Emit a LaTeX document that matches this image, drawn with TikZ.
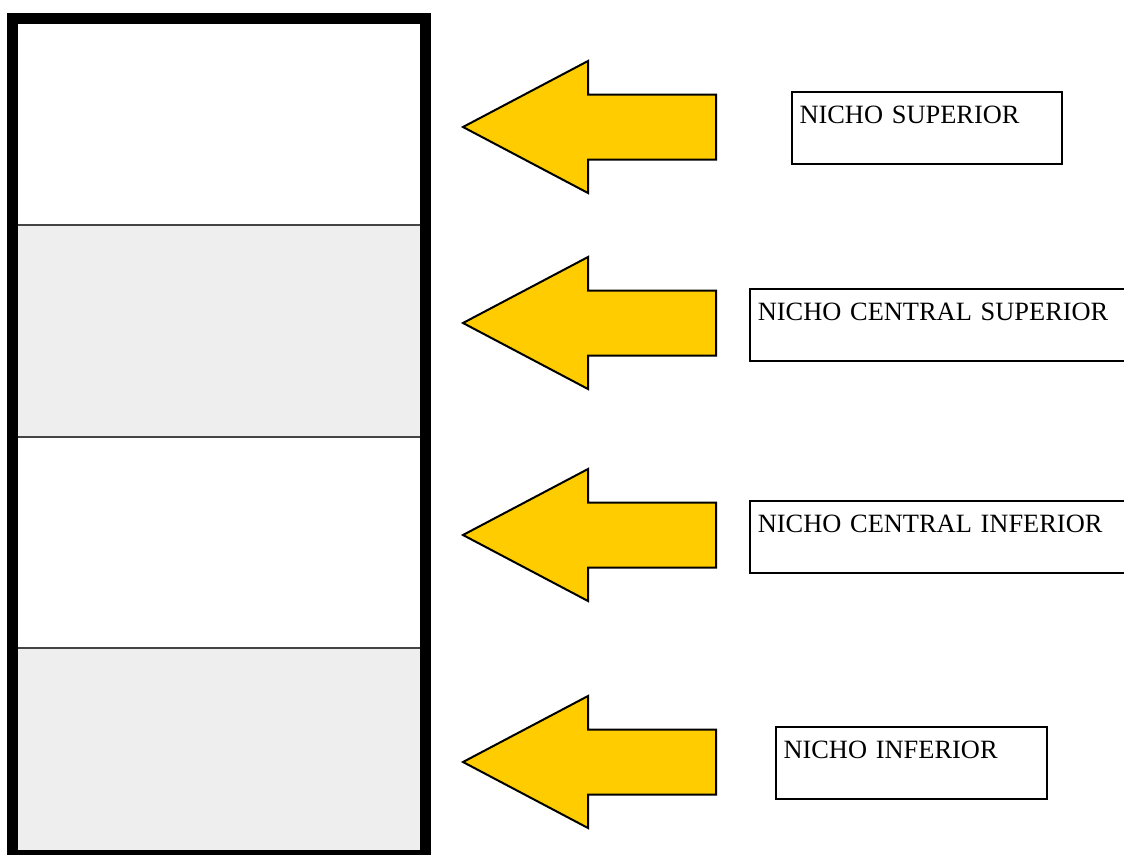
\documentclass[tikz,border=0pt]{standalone}
\usepackage{fontspec}
\setmainfont{Liberation Serif}
\usetikzlibrary{positioning}
\definecolor{flechaamarela}{RGB}{255,204,0}
\definecolor{nichogris}{RGB}{238,238,238}
\definecolor{divisor}{RGB}{68,68,68}
\tikzset{
    marco/.style={line width=11pt, draw=black},
    divisoria/.style={line width=2pt, draw=divisor},
    flecha/.style={draw=black, fill=flechaamarela, line width=2pt, line join=miter},
    nicho/.style={rectangle, draw=black, line width=2pt, anchor=north west, align=left, inner xsep=8pt, inner ysep=0pt, text height=31.5pt, text depth=40.5pt, font=\fontsize{26.4pt}{30pt}\selectfont},
}

\begin{document}
\begin{tikzpicture}[x=1pt, y=-1pt]
            \useasboundingbox (0,0) rectangle (1124,854);
            % estante
            \fill[nichogris] (12,225) rectangle (426,437);
            \fill[nichogris] (12,648) rectangle (426,856);
            \draw[divisoria] (18,225) -- (420,225);
            \draw[divisoria] (18,437) -- (420,437);
            \draw[divisoria] (18,648) -- (420,648);
            \draw[marco] (12.5,18.8) rectangle (425.5,855.5);
            % flechas
            \draw[flecha] (463,127) -- ++(125,-66) -- ++(0,33.5) -- ++(128,0) -- ++(0,65) -- ++(-128,0) -- ++(0,33.5) -- cycle;
            \draw[flecha] (463,323) -- ++(125,-66) -- ++(0,33.5) -- ++(128,0) -- ++(0,65) -- ++(-128,0) -- ++(0,33.5) -- cycle;
            \draw[flecha] (463,535) -- ++(125,-66) -- ++(0,33.5) -- ++(128,0) -- ++(0,65) -- ++(-128,0) -- ++(0,33.5) -- cycle;
            \draw[flecha] (463,762) -- ++(125,-66) -- ++(0,33.5) -- ++(128,0) -- ++(0,65) -- ++(-128,0) -- ++(0,33.5) -- cycle;
            % rotulos
            \node[nicho, text width=254pt] (sup) at (790.5,91.2) {NICHO SUPERIOR};
            \node[nicho, text width=364pt] (censup) at (748.8,287.8) {NICHO CENTRAL SUPERIOR};
            \node[nicho, text width=364pt] (cenin) at (748.8,499.5) {NICHO CENTRAL INFERIOR};
            \node[nicho, text width=255pt] (inf) at (774.5,725.5) {NICHO INFERIOR};
        \end{tikzpicture}
\end{document}
